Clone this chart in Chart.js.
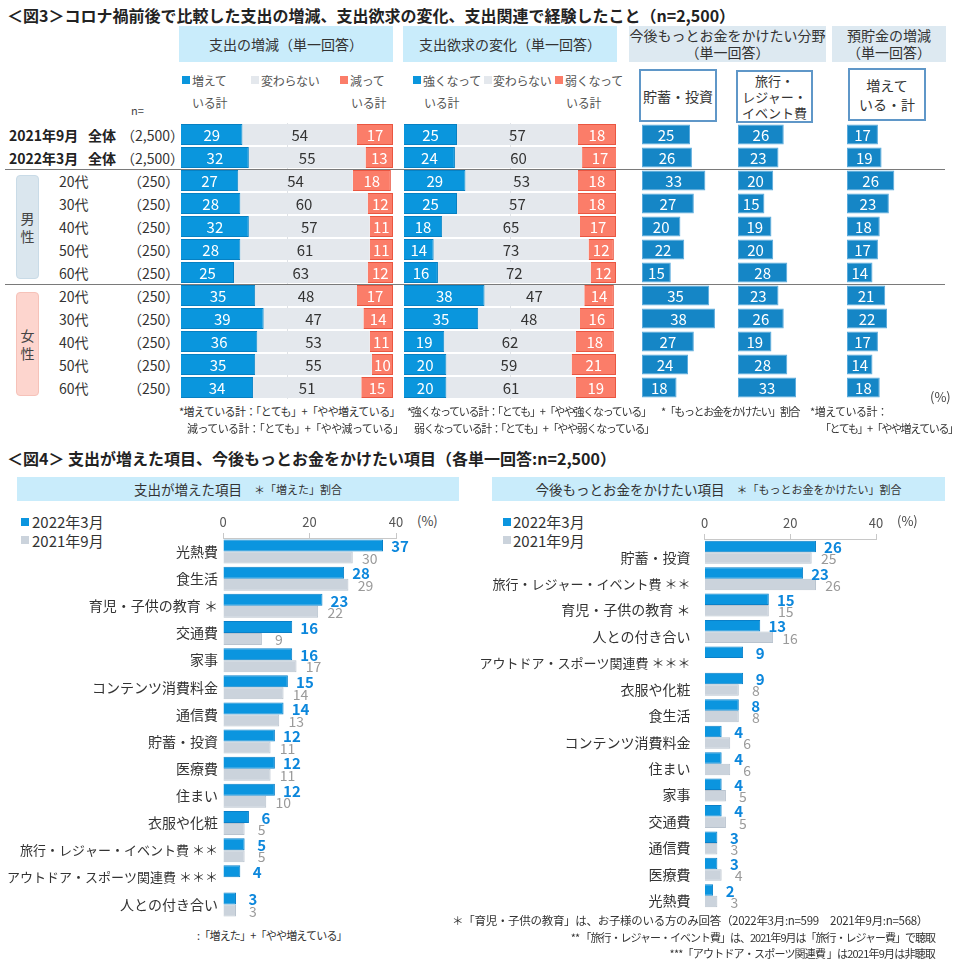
<!DOCTYPE html>
<html><head><meta charset="utf-8">
<script src="https://cdn.jsdelivr.net/npm/chart.js@4.4.1/dist/chart.umd.min.js"></script>
<style>
html,body{margin:0;padding:0;background:#fff;}
#page{position:relative;width:960px;height:971px;overflow:hidden;font-family:"Noto Sans CJK JP","Noto Sans",sans-serif;color:#333;}
.a{position:absolute;white-space:nowrap;}
.box{position:absolute;display:flex;align-items:center;justify-content:center;text-align:center;box-sizing:border-box;white-space:nowrap;}
</style></head><body><div id="page"></div>
<script>
// ---------- DATA : 図3 ----------
const rowGroups = ['2021年9月 全体','2022年3月 全体','男性 20代','男性 30代','男性 40代','男性 50代','男性 60代','女性 20代','女性 30代','女性 40代','女性 50代','女性 60代'];
const ageLabels = ['20代','30代','40代','50代','60代'];
const totalN = '（2,500）';
const ageN = '（250）';
// 支出の増減
const spendUp   = [29,32,27,28,32,28,25,35,39,36,35,34];
const spendSame = [54,55,54,60,57,61,63,48,47,53,55,51];
const spendDown = [17,13,18,12,11,11,12,17,14,11,10,15];
// 支出欲求の変化
const desireUp   = [25,24,29,25,18,14,16,38,35,19,20,20];
const desireSame = [57,60,53,57,65,73,72,47,48,62,59,61];
const desireDown = [18,17,18,18,17,12,12,14,16,18,21,19];
// 今後もっとお金をかけたい分野
const wantSaving = [25,26,33,27,20,22,15,35,38,27,24,18];
const wantTravel = [26,23,20,15,19,20,28,23,26,19,28,33];
// 預貯金の増減（増えている計）
const savingsUp  = [17,19,26,23,18,17,14,21,22,17,14,18];

// ---------- DATA : 図4 ----------
const incCats = ['光熱費','食生活','育児・子供の教育 ＊','交通費','家事','コンテンツ消費料金','通信費','貯蓄・投資','医療費','住まい','衣服や化粧','旅行・レジャー・イベント費 ＊＊','アウトドア・スポーツ関連費 ＊＊＊','人との付き合い'];
const inc2022 = [37,28,23,16,16,15,14,12,12,12,6,5,4,3];
const inc2021 = [30,29,22,9,17,14,13,11,11,10,5,5,null,3];
const wantCats = ['貯蓄・投資','旅行・レジャー・イベント費 ＊＊','育児・子供の教育 ＊','人との付き合い','アウトドア・スポーツ関連費 ＊＊＊','衣服や化粧','食生活','コンテンツ消費料金','住まい','家事','交通費','通信費','医療費','光熱費'];
const want2022 = [26,23,15,13,9,9,8,4,4,4,4,3,3,2];
const want2021 = [25,26,15,16,null,8,8,6,6,5,5,3,4,3];
const axisTicks = [0,20,40];
const seriesNames = ['2022年3月','2021年9月'];

// ---------- helpers ----------
const FONT = '"Noto Sans CJK JP","Noto Sans",sans-serif';
const P = document.getElementById('page');
function T(x, cy, html, fs, css, align){
  const d=document.createElement('div'); d.className='a';
  const lh=Math.round(fs*1.4);
  const pos = align==='r' ? `right:${960-x}px;` : align==='c' ? `left:${x}px;transform:translateX(-50%);` : `left:${x}px;`;
  d.style.cssText=pos+`top:${cy-lh/2}px;font-size:${fs}px;line-height:${lh}px;`+(css||'');
  d.innerHTML=html; P.appendChild(d); return d;
}
function R(x,y,w,h,css,html){
  const d=document.createElement('div'); d.className='box';
  d.style.cssText=`left:${x}px;top:${y}px;width:${w}px;height:${h}px;`+(css||'');
  if(html) d.innerHTML=html; P.appendChild(d); return d;
}
function C(x,y,w,h){
  const c=document.createElement('canvas'); c.width=w; c.height=h;
  c.style.cssText=`position:absolute;left:${x}px;top:${y}px;width:${w}px;height:${h}px;`;
  P.appendChild(c); return c;
}
const centerLabels={id:'centerLabels',afterDatasetsDraw(chart){
  const ctx=chart.ctx; ctx.save(); ctx.textAlign='center'; ctx.textBaseline='middle';
  chart.data.datasets.forEach((ds,i)=>{
    const m=chart.getDatasetMeta(i); ctx.fillStyle=ds.lbl.color; ctx.font=ds.lbl.font;
    m.data.forEach((el,j)=>{const v=ds.data[j]; if(v==null) return; ctx.fillText(String(v),(el.x+el.base)/2,el.y+1);});
  }); ctx.restore();}};
const midLine={id:'midLine',beforeDatasetsDraw(chart){
  const a=chart.chartArea, x=chart.scales.x.getPixelForValue(50), ctx=chart.ctx;
  ctx.save(); ctx.strokeStyle='#dfe2e6'; ctx.lineWidth=1; ctx.beginPath(); ctx.moveTo(Math.round(x)+0.5,a.top); ctx.lineTo(Math.round(x)+0.5,a.bottom); ctx.stroke(); ctx.restore();}};
const endLabels={id:'endLabels',afterDatasetsDraw(chart){
  const ctx=chart.ctx; ctx.save(); ctx.textAlign='center'; ctx.textBaseline='middle';
  chart.data.datasets.forEach((ds,i)=>{
    const m=chart.getDatasetMeta(i); ctx.fillStyle=ds.lbl.color; ctx.font=ds.lbl.font;
    m.data.forEach((el,j)=>{const v=ds.data[j]; if(v==null) return; ctx.fillText(String(v),el.x+17,el.y+1);});
  }); ctx.restore();}};

const BLUE='#0a96dd', GRAY='#e4e8ed', RED='#fb7d69', DBLUE='#1586c6';
const baseOpts = (max)=>({indexAxis:'y',responsive:false,animation:false,devicePixelRatio:1,
  layout:{padding:0},
  scales:{x:{display:false,stacked:true,min:0,max:max},y:{display:false,stacked:true}},
  plugins:{legend:{display:false},tooltip:{enabled:false}}});

function stacked(x,a,b,c){
  const o=baseOpts(100); o.datasets={bar:{barPercentage:0.91,categoryPercentage:1}};
  new Chart(C(x,123,212,276),{type:'bar',data:{labels:rowGroups,datasets:[
    {data:a,backgroundColor:BLUE,borderColor:'#0780c2',borderWidth:1,lbl:{color:'#fff',font:'15px '+FONT}},
    {data:b,backgroundColor:GRAY,borderWidth:0,lbl:{color:'#333',font:'15px '+FONT}},
    {data:c,backgroundColor:RED,borderColor:'#ea5641',borderWidth:1,lbl:{color:'#fff',font:'15px '+FONT}}]},
    options:o,plugins:[midLine,centerLabels]});
}
function single(x,w,d){
  const o=baseOpts(50); o.datasets={bar:{barPercentage:0.87,categoryPercentage:1}};
  new Chart(C(x,123,w,276),{type:'bar',data:{labels:rowGroups,datasets:[
    {data:d,backgroundColor:DBLUE,borderColor:'#5aaadc',borderWidth:1,borderSkipped:false,lbl:{color:'#fff',font:'15px '+FONT}}]},
    options:o,plugins:[centerLabels]});
}

// ---------- 図3 ----------
T(7,15,'＜図3＞コロナ禍前後で比較した支出の増減、支出欲求の変化、支出関連で経験したこと（n=2,500）',16,'font-weight:bold;color:#222;');
R(179,26,214,36,'background:#c9ecfb;font-size:14px;','支出の増減（単一回答）');
R(403,26,214,36,'background:#c9ecfb;font-size:14px;','支出欲求の変化（単一回答）');
R(629,26,197,36,'background:#dde9f1;font-size:14px;line-height:17px;','今後もっとお金をかけたい分野<br>（単一回答）');
R(832,26,114,36,'background:#dde9f1;font-size:14px;line-height:17px;','預貯金の増減<br>（単一回答）');

// legends
const LG='color:#555;letter-spacing:-0.3px;';
R(182,76,8,8,'background:'+BLUE); T(192,80,'増えて',12,LG); T(192,102,'いる計',12,LG);
R(251,76,8,8,'background:'+GRAY); T(261,80,'変わらない',12,LG);
R(340,76,8,8,'background:'+RED); T(350,80,'減って',12,LG); T(351,102,'いる計',12,LG);
R(413,76,8,8,'background:'+BLUE); T(423,80,'強くなって',12,LG); T(424,102,'いる計',12,LG);
R(484,76,8,8,'background:'+GRAY); T(493,80,'変わらない',12,LG);
R(555,76,8,8,'background:'+RED); T(565,80,'弱くなって',12,LG); T(566,102,'いる計',12,LG);
R(639,69,78,53,'background:#fff;border:2px solid #5f97c8;font-size:14px;','貯蓄・投資');
R(736,70,77,53,'background:#fff;border:2px solid #5f97c8;font-size:13px;line-height:16px;','旅行・<br>レジャー・<br>イベント費');
R(848,68,78,53,'background:#fff;border:2px solid #5f97c8;font-size:14px;line-height:19px;','増えて<br>いる・計');
T(131,110,'n=',11,'color:#444;');

// row labels
const rowY=[134.5,157.5,180.5,203.5,226.5,249.5,272.5,295.5,318.5,341.5,364.5,387.5];
['2021年9月','2022年3月'].forEach((s,i)=>{T(9,rowY[i],s,14,'font-weight:bold;color:#222;');T(88,rowY[i],'全体',14,'font-weight:bold;color:#222;');T(121,rowY[i],totalN,14);});
for(let i=2;i<12;i++){T(59,rowY[i],ageLabels[(i-2)%5],14);T(128,rowY[i],ageN,14);}
R(16,175,23,104,'background:#dae6ee;border:1px solid #c9dbe7;border-radius:4px;font-size:14px;line-height:18px;color:#444;','男<br>性');
R(16,292,23,104,'background:#fdd5ce;border:1px solid #f6c2b9;border-radius:4px;font-size:14px;line-height:18px;color:#444;','女<br>性');

stacked(181,spendUp,spendSame,spendDown);
stacked(404,desireUp,desireSame,desireDown);
single(642,96,wantSaving);
single(738,88,wantTravel);
single(847,91,savingsUp);

R(5,169,940,1,'background:#7a7a7a');
R(5,284,940,1,'background:#7a7a7a');
T(930,397,'(%)',13,'color:#444;');

T(179,411,'*増えている計：「とても」+「やや増えている」',11,'letter-spacing:-0.6px;');
T(187,428,'減っている計：「とても」+「やや減っている」',11,'letter-spacing:-0.6px;');
T(407,411,'*強くなっている計：「とても」+「やや強くなっている」',11,'letter-spacing:-1.3px;');
T(414,428,'弱くなっている計：「とても」+「やや弱くなっている」',11,'letter-spacing:-1.3px;');
T(661,411,'*「もっとお金をかけたい」割合',11,'letter-spacing:-1.4px;');
T(810,411,'*増えている計：',11,'letter-spacing:-0.5px;');
T(820,428,'「とても」+「やや増えている」',11,'letter-spacing:-1.4px;');

// ---------- 図4 ----------
T(7,458,'＜図4＞ 支出が増えた項目、今後もっとお金をかけたい項目（各単一回答:n=2,500）',16,'font-weight:bold;color:#222;');
R(17,477,442,24,'background:#c9ecfb;font-size:13.5px;','支出が増えた項目<span style="font-size:11px;margin-left:12px">＊「増えた」割合</span>');
R(492,477,453,24,'background:#c9ecfb;font-size:13.5px;','今後もっとお金をかけたい項目<span style="font-size:11px;margin-left:12px">＊「もっとお金をかけたい」割合</span>');
[[21,32],[503,513]].forEach(([sx,tx])=>{
  R(sx,518,8,8,'background:#0b95df'); T(tx,521,seriesNames[0],15);
  R(sx,536,8,8,'background:#cbd3dc'); T(tx,540,seriesNames[1],15);
});
T(417,521,'(%)',13,'color:#444;');
T(897,521,'(%)',13,'color:#444;');

function pairChart(x,y,w,h,padBottom,axisLeft,plotRight,cats,d1,d2,catPct,lblOff,lblPad,smallIdx){
  new Chart(C(x,y,w,h),{type:'bar',data:{labels:cats,datasets:[
    {label:seriesNames[0],data:d1,backgroundColor:'#0b95df',borderColor:'#0a80c8',borderWidth:1,lbl:{color:'#0c87dc',font:'bold 15px '+FONT}},
    {label:seriesNames[1],data:d2,backgroundColor:'#cbd3dc',borderColor:'#b9c3ce',borderWidth:1,lbl:{color:'#9a9a9a',font:'14px '+FONT}}]},
    options:{indexAxis:'y',responsive:false,animation:false,devicePixelRatio:1,
      layout:{padding:{left:0,right:w-(plotRight-x),top:0,bottom:padBottom}},
      datasets:{bar:{categoryPercentage:catPct,barPercentage:1}},
      scales:{
        x:{position:'top',min:axisTicks[0],max:axisTicks[axisTicks.length-1],afterFit:s=>{s.height=30;},
           afterBuildTicks:s=>{s.ticks=axisTicks.map(v=>({value:v}));},
           ticks:{font:{family:FONT,size:13},color:'#555',padding:3},
           grid:{drawOnChartArea:false,drawTicks:true,tickLength:5,color:'#c8c8c8'},border:{display:true,color:'#c8c8c8'}},
        y:{afterFit:s=>{s.width=axisLeft-x; s.paddingTop=0; s.paddingBottom=0;},
           ticks:{font:c=>({family:FONT,size:(smallIdx.includes(c.index)?13:14)}),color:'#333',padding:lblPad,labelOffset:lblOff,autoSkip:false},
           grid:{display:false,drawTicks:false},border:{display:false}}},
      plugins:{legend:{display:false},tooltip:{enabled:false}}},
    plugins:[endLabels]});
}
// left: plot area y 538..918 ; right: plot area y 539..909
pairChart(0,508,460,416,6,223,396,incCats,inc2022,inc2021,0.885,0,5,[11,12]);
pairChart(460,509,480,410,10,704.5,876,wantCats,want2022,want2021,0.87,5,14,[1,4]);

T(197,935,':「増えた」+「やや増えている」',11,'letter-spacing:-0.8px;');
T(928,920,'＊「育児・子供の教育」は、お子様のいる方のみ回答（2022年3月:n=599　2021年9月:n=568）',11.5,'letter-spacing:-0.3px;','r');
T(935,937,'** 「旅行・レジャー・イベント費」は、2021年9月は「旅行・レジャー費」で聴取',11,'letter-spacing:-1px;','r');
T(935,953,'***「アウトドア・スポーツ関連費 」は2021年9月は非聴取',11,'letter-spacing:-0.8px;','r');
</script></body></html>
